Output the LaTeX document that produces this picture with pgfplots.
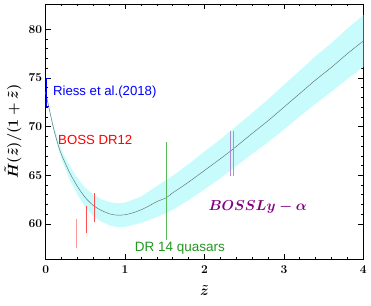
\documentclass[border=0pt]{standalone}
\usepackage{pgfplots}
\pgfplotsset{compat=1.18}
\usepackage{fontspec}
\newfontfamily\lib{Liberation Sans}
\definecolor{bandc}{RGB}{200,252,252}
\definecolor{curvec}{RGB}{95,112,112}
\definecolor{dgreen}{RGB}{34,150,34}
\definecolor{lgreen}{RGB}{90,185,90}
\definecolor{purp}{RGB}{128,0,128}
\definecolor{lavc}{RGB}{175,140,210}
\definecolor{pinkc}{RGB}{215,130,200}
\begin{document}
\begin{tikzpicture}
\begin{axis}[
  name=ax,
  scale only axis,
  width=317.6pt, height=255pt,
  xmin=0, xmax=4, ymin=56.4, ymax=82.6,
  xtick={0,1,2,3,4}, ytick={60,65,70,75,80},
  minor x tick num=4, minor y tick num=4,
  tick align=inside, tick pos=both,
  major tick length=5pt, minor tick length=2.5pt,
  axis line style={line width=0.8pt},
  every tick/.style={black, line width=0.6pt},
  tick label style={font=\boldmath\fontsize{13}{15}\selectfont},
  xticklabel style={yshift=-3pt},
  label style={font=\boldmath\fontsize{13.5}{16}\selectfont},
  xlabel={$\tilde{z}$},
  ylabel={$\tilde{H}(\tilde{z})/(1+\tilde{z})$},
  xlabel style={at={(axis description cs:0.5,-0.122)}, anchor=center},
  ylabel style={at={(axis description cs:-0.103,0.5)}, anchor=center},
]
% confidence band
\addplot[fill=bandc, draw=none] coordinates {
(0,73.55) (0.1,70.1) (0.2,67.6) (0.3,66.0) (0.4,64.7) (0.5,63.7) (0.6,63.0) (0.7,62.55) (0.8,62.25) (0.9,62.12) (1.0,62.2) (1.2,62.8) (1.4,63.9) (1.6,64.95) (1.8,66.15) (2.0,67.45) (2.2,68.7) (2.4,70.05) (2.6,71.4) (2.8,72.8) (3.0,74.3) (3.2,75.75) (3.4,77.25) (3.6,78.6) (3.8,80.1) (4.0,81.45)
(4.0,76.15) (3.8,74.9) (3.6,73.6) (3.4,72.35) (3.2,71.05) (3.0,69.7) (2.8,68.4) (2.6,67.2) (2.4,65.95) (2.2,64.7) (2.0,63.55) (1.8,62.45) (1.6,61.45) (1.4,60.7) (1.2,60.1) (1.0,59.7) (0.9,59.68) (0.8,59.85) (0.7,60.25) (0.6,60.8) (0.5,61.7) (0.4,63.0) (0.3,64.6) (0.2,66.6) (0.1,69.5) (0,73.45)
} -- cycle;
% best-fit curve
\addplot[curvec, line width=0.45pt, smooth, mark=none] coordinates {
(0,73.5) (0.05,71.6) (0.1,69.8) (0.15,68.3) (0.2,67.1) (0.3,65.3) (0.4,63.85) (0.5,62.7) (0.6,61.9) (0.7,61.4) (0.8,61.05) (0.9,60.9) (1.0,60.95) (1.1,61.15) (1.2,61.45) (1.3,61.85) (1.4,62.3) (1.52,62.7) (1.6,63.2) (1.8,64.3) (2.0,65.5) (2.2,66.7) (2.36,67.7) (2.6,69.3) (2.8,70.6) (3.0,72.0) (3.2,73.4) (3.4,74.8) (3.6,76.1) (3.8,77.5) (4.0,78.8)
};
% Riess et al. (2018): bracket at z=0
\addplot[blue, line width=2.4pt, mark=none] coordinates {(0,72.1) (0,75.0)};
\addplot[blue, line width=0.9pt, mark=none] coordinates {(0,72.1) (0.04,72.1)};
\addplot[blue, line width=0.9pt, mark=none] coordinates {(0,75.0) (0.04,75.0)};
% BOSS DR12
\addplot[red!40, line width=0.6pt, mark=none] coordinates {(0.38,57.5) (0.38,60.5)};
\addplot[red!70, line width=0.6pt, mark=none] coordinates {(0.51,59.05) (0.51,61.85)};
\addplot[red!70, line width=0.6pt, mark=none] coordinates {(0.61,60.2) (0.61,63.2)};
% DR14 quasars
\addplot[lgreen, line width=0.6pt, mark=none] coordinates {(1.52,58.4) (1.52,68.4)};
% BOSS Ly-alpha
\addplot[lavc, line width=0.5pt, mark=none] coordinates {(2.33,64.9) (2.33,69.6)};
\addplot[pinkc, line width=0.5pt, mark=none] coordinates {(2.36,64.9) (2.36,69.6)};
% labels
\node[anchor=west, blue, font=\lib\fontsize{13.2}{15}\selectfont, inner sep=0pt] at (axis cs:0.09,73.6) {Riess et al.(2018)};
\node[anchor=west, red, font=\lib\fontsize{13.2}{15}\selectfont, inner sep=0pt] at (axis cs:0.155,68.65) {BOSS DR12};
\node[anchor=center, dgreen, font=\lib\fontsize{13.5}{15}\selectfont, inner sep=0pt] at (axis cs:1.69,57.5) {DR 14 quasars};
\node[anchor=center, purp, font=\boldmath\fontsize{15.7}{18}\selectfont, inner sep=0pt] at (axis cs:2.67,61.7) {$BOSS Ly-\alpha$};
\end{axis}
\pgfresetboundingbox
\path[use as bounding box] ([xshift=-45.7pt,yshift=-46pt]ax.south west) rectangle ([xshift=7.7pt,yshift=4pt]ax.north east);
\end{tikzpicture}
\end{document}
